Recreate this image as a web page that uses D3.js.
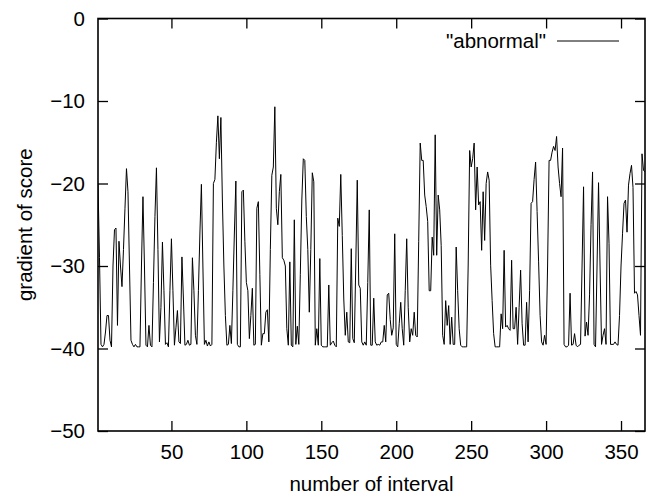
<!DOCTYPE html>
<html>
<head>
<meta charset="utf-8">
<script src="https://cdn.jsdelivr.net/npm/d3@7"></script>
<style>
  body { margin: 0; background: #fff; overflow: hidden; }
  svg { display: block; }
  text { font-family: "Liberation Sans", Arial, sans-serif; fill: #000; }
</style>
</head>
<body>
<div id="myPlot"></div>
<script>
// data: one value per interval, starting at interval 1
var intervalStart = 1;
var scoreGradient = [
  -20, -29, -39.5, -39.8, -39.5, -38, -36, -36, -39, -39.8,
  -30, -25.6, -25.4, -37.2, -27, -30, -32.5, -28, -23, -18.2,
  -21, -30, -39, -39.5, -39.8, -39.5, -39.8, -39.8, -39.8, -30,
  -21.6, -30, -39.6, -39.8, -37.2, -39.6, -39.8, -32, -24, -18.1,
  -28, -39.2, -35, -27.1, -33, -39.5, -39.3, -39.8, -33, -26.7,
  -33, -39.6, -37.5, -35.4, -39.2, -39.4, -28.9, -34, -39.6, -39.5,
  -39, -39.6, -39.5, -29, -33, -38.4, -39.5, -33, -26, -20.1,
  -30, -39.5, -39, -39.7, -39.2, -39.7, -39.5, -20, -19.5, -15,
  -11.8, -17, -12, -22, -30, -36, -39.6, -39.5, -37.2, -39.4,
  -33, -26, -19.7, -39.5, -39.8, -39.8, -21, -20.8, -27, -32,
  -33, -38.8, -36, -32.7, -39.6, -39.5, -23, -22.2, -31, -39.6,
  -38.2, -38.2, -35.6, -35.3, -39.2, -28, -19, -18, -10.7, -23,
  -25, -21, -18.9, -29, -29.3, -30, -37.6, -39.6, -29.5, -39.6,
  -39.8, -24.4, -39.5, -37.3, -39.5, -31, -22, -17, -17.2, -24,
  -28, -35.6, -28, -18.7, -19.8, -39.6, -37.6, -39.6, -29.1, -39.6,
  -39.8, -39.8, -39.8, -39.8, -32.3, -39.6, -39.3, -39.1, -39.6, -39.8,
  -24.2, -25.2, -18.9, -26.3, -34, -38.4, -35.6, -39.2, -39.3, -27.9,
  -38.8, -39.3, -30, -19.6, -32.3, -32.7, -39.2, -39.6, -39.2, -39.6,
  -32, -23.2, -39.6, -39.6, -33.9, -39.2, -39.6, -39.5, -39.6, -39.2,
  -39.2, -37.2, -39.2, -33.5, -33.3, -36.5, -38.4, -37.5, -26.1, -39.5,
  -39.8, -37, -34.4, -37.6, -39.6, -33, -26.7, -35, -39.2, -37.6,
  -38.4, -35.6, -38.4, -38.6, -27, -15.1, -17.2, -17.2, -21.4, -22.8,
  -24.6, -33, -33, -26.5, -28.7, -14.1, -28.7, -21.4, -23.2, -27.5,
  -38.4, -39.5, -34.2, -37.2, -34.8, -39.5, -36.2, -39.5, -39.5, -27.7,
  -33, -37.6, -39.6, -39.8, -39.8, -39.8, -39.8, -30, -16, -18,
  -17, -15.1, -23.2, -18, -22.6, -22.2, -28.1, -21, -26.9, -20,
  -18.6, -19.6, -29.9, -34.2, -38.2, -39.8, -39.8, -39.8, -39.8, -35.8,
  -37.6, -28.1, -37.4, -37.2, -37.6, -37.8, -29.3, -37.6, -37.6, -35,
  -39.5, -35, -30.5, -37, -39.6, -39.6, -34.4, -39.2, -33, -22.4,
  -22.2, -19.5, -17.4, -23.4, -29.5, -36, -39.2, -39.6, -38.4, -39.5,
  -30, -17.2, -17.2, -16.2, -15.5, -16, -14.3, -18, -20, -21.6,
  -15.7, -39.5, -39.8, -39.8, -39.6, -33.3, -39.6, -39.5, -38.2, -39.6,
  -39.8, -39.6, -39.5, -30, -20.4, -38.5, -36.8, -38.4, -33.5, -25,
  -18.6, -39.5, -39.8, -30, -19.9, -30, -39.5, -38.4, -37.6, -39.5,
  -21.6, -27.3, -39.5, -39.5, -39.5, -39.2, -39.5, -39.6, -36, -30,
  -26.1, -22.4, -22, -25.9, -20.2, -18.8, -17.8, -20.5, -33.3, -33.1,
  -33.5, -36, -38.4, -16.4, -18.4, -18.6
];
var xTicks = [50, 100, 150, 200, 250, 300, 350];
var yTicks = [0, -10, -20, -30, -40, -50];
var xDomain = [1, 366];
var yDomain = [-50, 0];
var seriesName = '"abnormal"';

var svgWidth = 661;
var svgHeight = 497;
var fontSize = "20.5px";

var margin = {
    top: 18.5,
    right: 16,
    bottom: 66,
    left: 98
};

var innerWidth = svgWidth - margin.left - margin.right;
var innerHeight = svgHeight - margin.top - margin.bottom;

var svg = d3
    .select("#myPlot")
    .append("svg")
    .attr("height", svgHeight)
    .attr("width", svgWidth);

var data = scoreGradient.map((v, i) => ({ x: intervalStart + i, y: v }));

var xScale = d3.scaleLinear().domain(xDomain).range([0, innerWidth]);
var yScale = d3.scaleLinear().domain(yDomain).range([innerHeight, 0]);

var g = svg.append("g")
    .attr("transform", `translate(${margin.left}, ${margin.top})`);

// clip so the line stays inside the frame
g.append("clipPath").attr("id", "plotClip")
    .append("rect").attr("width", innerWidth).attr("height", innerHeight);

// the data line
var line = d3.line().x(d => xScale(d.x)).y(d => yScale(d.y));
g.append("path")
    .datum(data)
    .attr("clip-path", "url(#plotClip)")
    .attr("fill", "none")
    .attr("stroke", "#000")
    .attr("stroke-width", 1)
    .attr("d", line);

// gnuplot style axes: ticks inward and mirrored on all four sides
var tickLen = 10;
function styleAxis(sel) {
    sel.select(".domain").remove();
    sel.selectAll(".tick line").attr("stroke", "#000").attr("stroke-width", 1.3);
    sel.selectAll("text").style("font-size", fontSize).style("font-family", '"Liberation Sans", Arial, sans-serif');
}

g.append("g")
    .attr("class", "x axis")
    .attr("transform", `translate(0, ${innerHeight})`)
    .call(d3.axisBottom(xScale).tickValues(xTicks).tickSizeInner(-tickLen).tickSizeOuter(0).tickPadding(13))
    .call(styleAxis);

g.append("g")
    .attr("class", "x axis top")
    .call(d3.axisTop(xScale).tickValues(xTicks).tickSizeInner(-tickLen).tickSizeOuter(0).tickFormat(""))
    .call(styleAxis);

g.append("g")
    .attr("class", "y axis")
    .call(d3.axisLeft(yScale).tickValues(yTicks).tickSizeInner(-tickLen).tickSizeOuter(0).tickPadding(13))
    .call(styleAxis);

g.append("g")
    .attr("class", "y axis right")
    .attr("transform", `translate(${innerWidth}, 0)`)
    .call(d3.axisRight(yScale).tickValues(yTicks).tickSizeInner(-tickLen).tickSizeOuter(0).tickFormat(""))
    .call(styleAxis);

// frame
g.append("rect")
    .attr("width", innerWidth)
    .attr("height", innerHeight)
    .attr("fill", "none")
    .attr("stroke", "#000")
    .attr("stroke-width", 1.6);

// axis titles
g.append("text")
    .attr("text-anchor", "middle")
    .attr("x", innerWidth / 2)
    .attr("y", innerHeight + 60)
    .style("font-size", fontSize)
    .text("number of interval");

g.append("text")
    .attr("text-anchor", "middle")
    .attr("transform", `translate(-66, ${innerHeight / 2})rotate(-90)`)
    .style("font-size", fontSize)
    .text("gradient of score");

// legend
var legend = g.append("g").attr("transform", `translate(${innerWidth - 99}, 22.5)`);
legend.append("text")
    .attr("text-anchor", "end")
    .attr("x", 0)
    .attr("y", 7)
    .style("font-size", fontSize)
    .text(seriesName);
legend.append("line")
    .attr("x1", 11).attr("x2", 73)
    .attr("y1", 0).attr("y2", 0)
    .attr("stroke", "#000")
    .attr("stroke-width", 1);
</script>
</body>
</html>
